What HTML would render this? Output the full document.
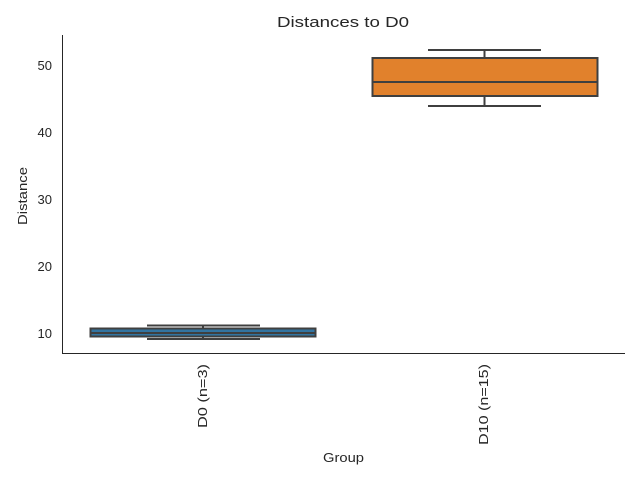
<!DOCTYPE html>
<html><head><style>body{margin:0;background:#fff}svg{display:block}text{font-family:"Liberation Sans",sans-serif;fill:#262626}</style></head>
<body>
<svg width="640" height="480" viewBox="0 0 640 480" xmlns="http://www.w3.org/2000/svg">
<text x="277" y="27" font-size="15" textLength="132" lengthAdjust="spacingAndGlyphs">Distances to D0</text>
<line x1="62.5" y1="35" x2="62.5" y2="354" stroke="#262626" stroke-width="1"/>
<line x1="62" y1="353.5" x2="625" y2="353.5" stroke="#262626" stroke-width="1"/>
<g font-size="13" text-anchor="end">
<text x="52" y="338">10</text>
<text x="52" y="271">20</text>
<text x="52" y="204">30</text>
<text x="52" y="137">40</text>
<text x="52" y="70">50</text>
</g>
<text transform="translate(27,225) rotate(-90)" font-size="13" textLength="58" lengthAdjust="spacingAndGlyphs">Distance</text>
<text x="323" y="462" font-size="13" textLength="41" lengthAdjust="spacingAndGlyphs">Group</text>
<text transform="translate(207,428) rotate(-90)" font-size="13" textLength="64" lengthAdjust="spacingAndGlyphs">D0 (n=3)</text>
<text transform="translate(488,445) rotate(-90)" font-size="13" textLength="81" lengthAdjust="spacingAndGlyphs">D10 (n=15)</text>
<g stroke="#3f3f3f" stroke-width="2" fill="none">
<line x1="203" y1="325.5" x2="203" y2="339"/>
<line x1="147" y1="325.5" x2="260" y2="325.5"/>
<line x1="147" y1="339" x2="260" y2="339"/>
<rect x="90.5" y="328.5" width="225" height="8" fill="#3274a1"/>
<line x1="90.5" y1="333" x2="315.5" y2="333"/>
<line x1="484.5" y1="50" x2="484.5" y2="106"/>
<line x1="428" y1="50" x2="541" y2="50"/>
<line x1="428" y1="106" x2="541" y2="106"/>
<rect x="372.5" y="58" width="225" height="38" fill="#e1812c"/>
<line x1="372.5" y1="82" x2="597.5" y2="82"/>
</g>
</svg>
</body></html>
